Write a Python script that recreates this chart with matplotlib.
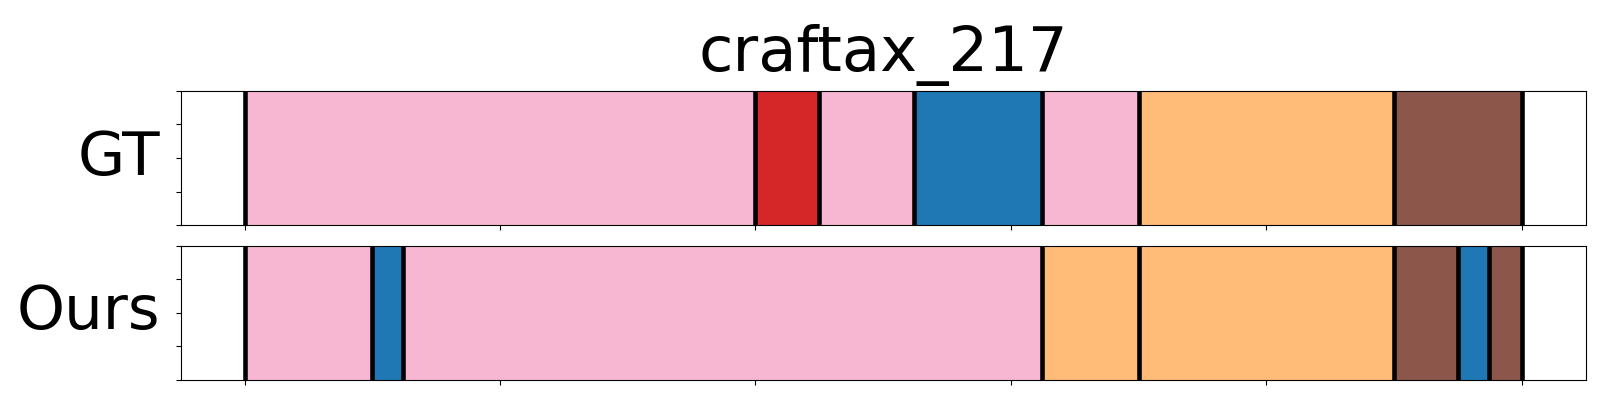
import matplotlib
matplotlib.use("Agg")
import matplotlib.pyplot as plt

# segmentos: inicio, fim, cor
titulo = "craftax_217"
rotulos = ["GT", "Ours"]

gt_inicio = [0, 200, 225, 262, 312, 350, 450]
gt_fim = [200, 225, 262, 312, 350, 450, 500]
gt_cor = ["#f7b6d2", "#d62728", "#f7b6d2", "#1f77b4", "#f7b6d2", "#ffbb78", "#8c564b"]

ours_inicio = [0, 50, 62, 312, 350, 450, 475, 487]
ours_fim = [50, 62, 312, 350, 450, 475, 487, 500]
ours_cor = ["#f7b6d2", "#1f77b4", "#f7b6d2", "#ffbb78", "#ffbb78", "#8c564b", "#1f77b4", "#8c564b"]

dados = [(gt_inicio, gt_fim, gt_cor), (ours_inicio, ours_fim, ours_cor)]

fig, axs = plt.subplots(2, 1, figsize=(16, 4), dpi=100)
plt.subplots_adjust(left=0.113, right=0.991, top=0.773, bottom=0.05, hspace=0.151)

for ax, rot, (ini, fim, cor) in zip(axs, rotulos, dados):
    larg = [f - i for i, f in zip(ini, fim)]
    ax.barh(0.5, larg, left=ini, height=1, color=cor, edgecolor=cor, linewidth=1)
    for x in sorted(set(ini + fim)):
        ax.axvline(x, color="black", linewidth=3.3)
    ax.set_xlim(-25, 525)
    ax.set_ylim(0, 1)
    ax.set_yticks([0, 0.25, 0.5, 0.75, 1])
    ax.set_yticklabels([])
    ax.set_xticks([0, 100, 200, 300, 400, 500])
    ax.set_xticklabels([])
    ax.set_ylabel(rot, fontsize=44, rotation=0, ha="right", va="center", labelpad=8)

axs[0].set_title(titulo, fontsize=45, pad=14)

plt.savefig("out.png")
plt.close()
